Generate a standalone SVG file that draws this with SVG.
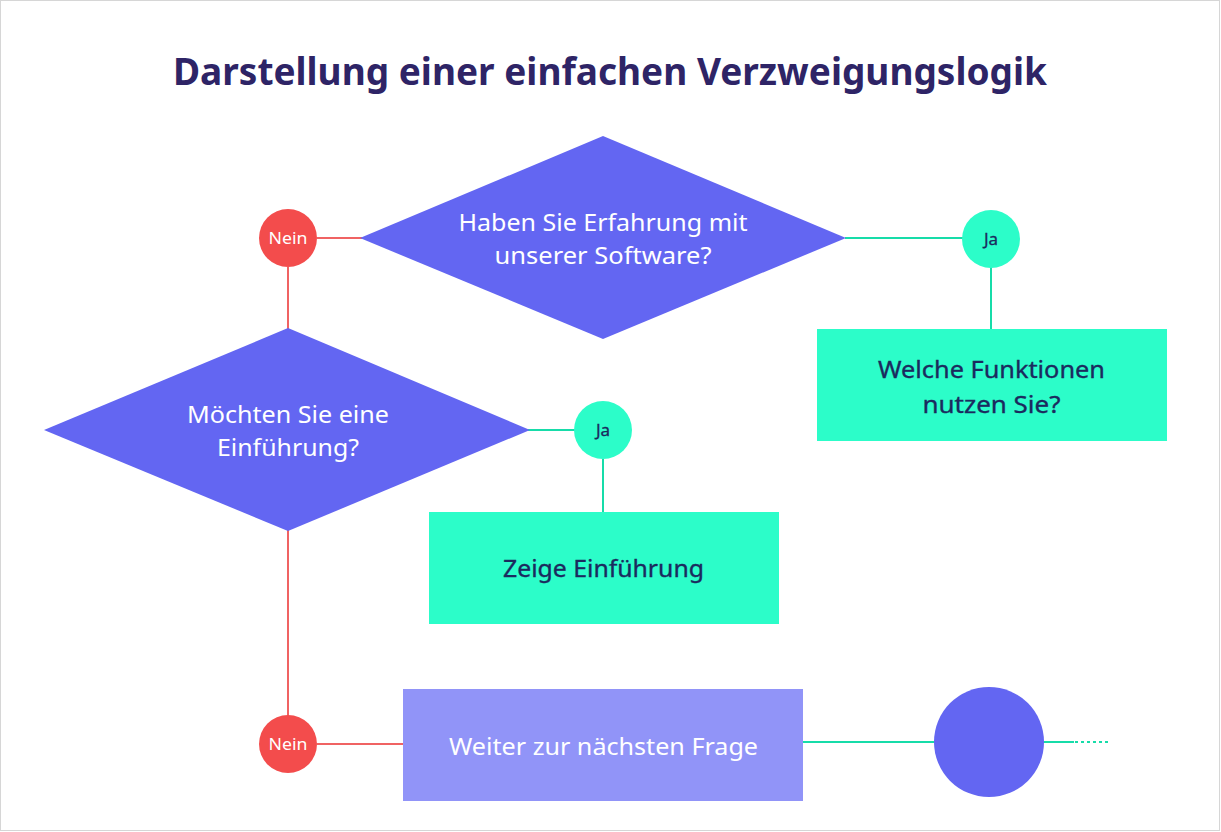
<svg xmlns="http://www.w3.org/2000/svg" width="1221" height="832" viewBox="0 0 1221 832">
<style>
.t{font-family:"Noto Sans","Liberation Sans",sans-serif;text-anchor:middle}
.title{font-size:38px;font-weight:700;fill:#2e2466}
.dia{fill:#6366f2}
.dt{font-size:24px;fill:#ffffff}
.box{fill:#2cfdc9}
.bt{font-size:24px;fill:#1b2a5e;stroke:#1b2a5e;stroke-width:0.35}
.nein{fill:#f34c4c}
.ja{fill:#2cfdc9}
.ct{font-size:17px}
.ctj{font-size:17px;fill:#1b2a5e;stroke:#1b2a5e;stroke-width:0.3}
.red{stroke:#f06363;stroke-width:2;fill:none}
.grn{stroke:#17dca9;stroke-width:2;fill:none}
</style>
<rect x="0.5" y="0.5" width="1219" height="830" fill="#ffffff" stroke="#d6d6d6" stroke-width="1"/>
<text class="t title" x="610" y="85" textLength="874" lengthAdjust="spacingAndGlyphs">Darstellung einer einfachen Verzweigungslogik</text>
<g id="connectors">
<line class="red" x1="317" y1="238" x2="362" y2="238"/>
<line class="red" x1="288" y1="267" x2="288" y2="330"/>
<line class="red" x1="288" y1="530" x2="288" y2="716"/>
<line class="red" x1="317" y1="744" x2="404" y2="744"/>
<line class="grn" x1="845" y1="238" x2="963" y2="238"/>
<line class="grn" x1="991" y1="267" x2="991" y2="330"/>
<line class="grn" x1="528" y1="430" x2="575" y2="430"/>
<line class="grn" x1="603" y1="459" x2="603" y2="513"/>
<line class="grn" x1="802" y1="742" x2="935" y2="742"/>
<line class="grn" x1="1043" y1="742" x2="1074" y2="742"/>
<line class="grn" x1="1075" y1="742" x2="1108" y2="742" stroke-dasharray="3 3"/>
</g>
<g id="q1">
<polygon class="dia" points="603,136 846,238 603,339 360,238"/>
<text class="t dt" x="603" y="231" textLength="289" lengthAdjust="spacingAndGlyphs">Haben Sie Erfahrung mit</text>
<text class="t dt" x="603" y="264" textLength="217" lengthAdjust="spacingAndGlyphs">unserer Software?</text>
</g>
<g id="nein1">
<circle class="nein" cx="288" cy="238" r="29"/>
<text class="t ct" x="288" y="244" fill="#ffffff" textLength="39" lengthAdjust="spacingAndGlyphs">Nein</text>
</g>
<g id="q2">
<polygon class="dia" points="288,328 530,430 288,531 44,430"/>
<text class="t dt" x="288" y="423" textLength="202" lengthAdjust="spacingAndGlyphs">Möchten Sie eine</text>
<text class="t dt" x="288" y="456" textLength="142" lengthAdjust="spacingAndGlyphs">Einführung?</text>
</g>
<g id="ja1">
<circle class="ja" cx="991" cy="239" r="29"/>
<text class="t ctj" x="991" y="245">Ja</text>
</g>
<g id="funktionen">
<rect class="box" x="817" y="329" width="350" height="112"/>
<text class="t bt" x="991.5" y="378" textLength="227" lengthAdjust="spacingAndGlyphs">Welche Funktionen</text>
<text class="t bt" x="991.5" y="413" textLength="138" lengthAdjust="spacingAndGlyphs">nutzen Sie?</text>
</g>
<g id="ja2">
<circle class="ja" cx="603" cy="430" r="29"/>
<text class="t ctj" x="603" y="436">Ja</text>
</g>
<g id="einfuehrung">
<rect class="box" x="429" y="512" width="350" height="112"/>
<text class="t bt" x="603.5" y="577" textLength="201" lengthAdjust="spacingAndGlyphs">Zeige Einführung</text>
</g>
<g id="nein2">
<circle class="nein" cx="288" cy="744" r="29"/>
<text class="t ct" x="288" y="750" fill="#ffffff" textLength="39" lengthAdjust="spacingAndGlyphs">Nein</text>
</g>
<g id="weiter">
<rect x="403" y="689" width="400" height="112" fill="#9194f8"/>
<text class="t" x="603.5" y="755" font-size="24" fill="#ffffff" textLength="309" lengthAdjust="spacingAndGlyphs">Weiter zur nächsten Frage</text>
</g>
<g id="end">
<circle cx="989" cy="742" r="55" fill="#6366f2"/>
</g>
</svg>
